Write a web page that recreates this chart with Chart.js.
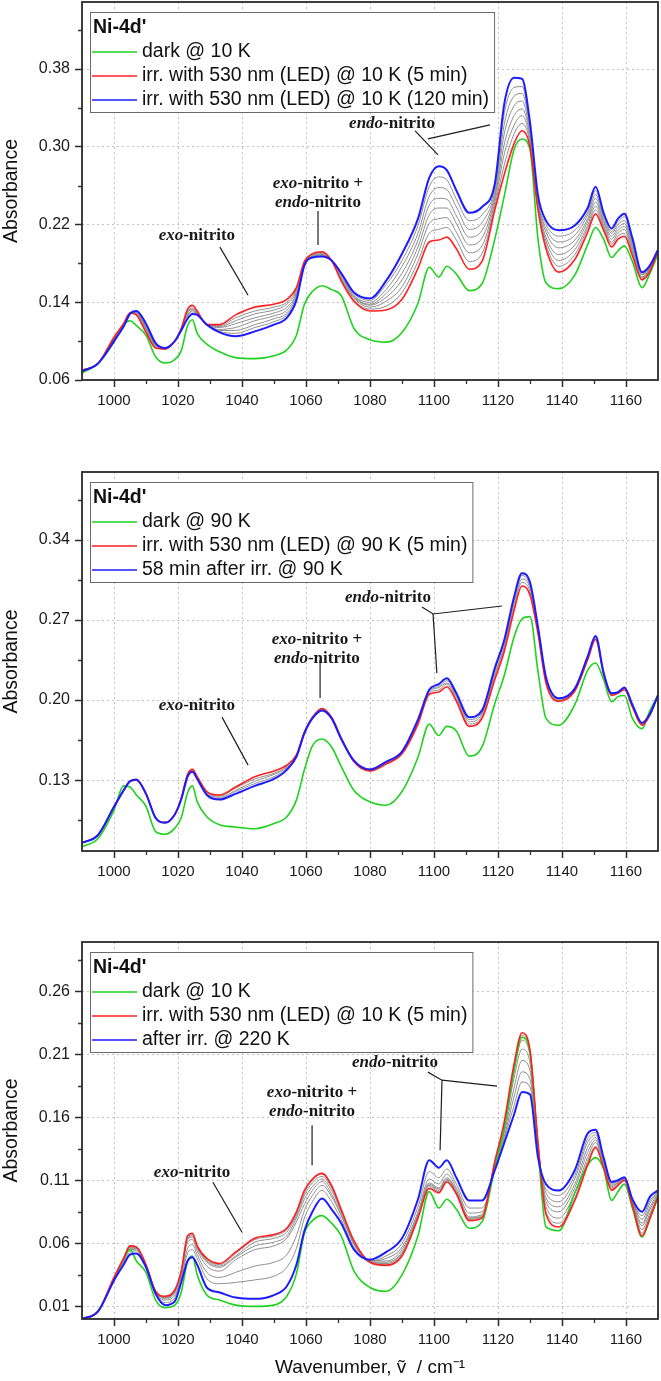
<!DOCTYPE html>
<html>
<head>
<meta charset="utf-8">
<script src="https://cdn.jsdelivr.net/npm/chart.js@4.4.0/dist/chart.umd.min.js"></script>
<style>
body { margin: 0; background: #fff; overflow: hidden; }
#wrap { position: relative; width: 661px; height: 1381px; overflow: hidden; }
canvas { position: absolute; left: 0; }
</style>
</head>
<body>
<div id="wrap">
<canvas id="c1" width="661" height="450" style="top:-30px"></canvas>
<canvas id="c2" width="661" height="451" style="top:440px"></canvas>
<canvas id="c3" width="661" height="471" style="top:910px"></canvas>
</div>
<script>
// shared x grid (cm-1)
const wavenumbers = [990, 995, 1000, 1003, 1005, 1007, 1010, 1013, 1016, 1019, 1021, 1023, 1024.5, 1026, 1029, 1033, 1038, 1044, 1050, 1054, 1057, 1059.5, 1062, 1065, 1068, 1071, 1075, 1080, 1085, 1090, 1095, 1098.5, 1101.5, 1104, 1107, 1111, 1115, 1119, 1122, 1125, 1127.5, 1130, 1132.5, 1135, 1139, 1144, 1148, 1150.5, 1153, 1155.5, 1157.5, 1159.5, 1162, 1165, 1167.5, 1170];
const xTicks = [1000, 1020, 1040, 1060, 1080, 1100, 1120, 1140, 1160];
const xMinor = [1010, 1030, 1050, 1070, 1090, 1110, 1130, 1150];

// panel 1 : 10 K
const p1Dark = [.067,.077,.099,.117,.121,.116,.106,.084,.0775,.081,.090,.116,.122,.108,.097,.089,.083,.082,.085,.091,.106,.138,.151,.157,.153,.147,.113,.1015,.099,.109,.139,.176,.166,.177,.169,.152,.159,.205,.250,.297,.308,.297,.205,.160,.154,.168,.199,.217,.205,.186,.193,.198,.182,.155,.170,.190];
const p1Irr5 = [.070,.077,.104,.118,.129,.127,.109,.093,.092,.100,.113,.133,.137,.131,.117,.117,.127,.135,.138,.143,.155,.182,.190,.192,.183,.162,.141,.131,.132,.143,.175,.202,.204,.207,.195,.174,.182,.235,.272,.303,.3165,.300,.235,.195,.171,.184,.212,.231,.214,.197,.205,.208,.188,.163,.172,.193];
const p1Irr120 = [.069,.077,.100,.115,.128,.131,.118,.098,.093,.100,.111,.123,.128,.127,.117,.109,.105,.110,.117,.124,.142,.178,.186,.187,.183,.170,.150,.144,.162,.190,.226,.268,.280,.276,.255,.232,.238,.262,.345,.371,.370,.325,.250,.224,.214,.219,.237,.259,.232,.216,.226,.231,.206,.171,.178,.194];
const p1Gray = [
  [.070,.077,.103,.118,.129,.128,.110,.094,.092,.100,.113,.132,.136,.130,.117,.116,.124,.131,.135,.140,.153,.181,.189,.191,.183,.163,.142,.133,.136,.150,.182,.211,.215,.217,.204,.182,.190,.239,.282,.313,.324,.304,.237,.199,.177,.189,.216,.235,.217,.200,.208,.211,.191,.164,.173,.193],
  [.070,.077,.103,.117,.129,.128,.112,.094,.092,.100,.112,.130,.134,.130,.117,.115,.121,.128,.132,.138,.151,.181,.189,.191,.183,.164,.144,.135,.141,.156,.190,.221,.226,.227,.212,.191,.198,.243,.293,.322,.332,.307,.238,.203,.183,.194,.219,.239,.219,.202,.211,.215,.193,.165,.174,.193],
  [.070,.077,.102,.117,.129,.129,.113,.095,.092,.100,.112,.129,.133,.129,.117,.114,.118,.124,.129,.135,.149,.180,.188,.190,.183,.165,.145,.137,.145,.163,.197,.230,.237,.237,.221,.199,.206,.247,.303,.332,.339,.311,.240,.207,.189,.199,.223,.243,.222,.205,.214,.218,.196,.166,.175,.193],
  [.069,.077,.102,.116,.128,.129,.114,.096,.093,.100,.112,.127,.132,.129,.117,.112,.114,.121,.126,.132,.148,.180,.188,.189,.183,.167,.146,.138,.149,.170,.204,.240,.247,.246,.229,.207,.214,.250,.314,.342,.347,.314,.242,.212,.196,.204,.226,.247,.224,.208,.217,.221,.198,.168,.175,.193],
  [.069,.077,.101,.116,.128,.130,.115,.096,.093,.100,.112,.126,.131,.128,.117,.111,.111,.117,.123,.129,.146,.179,.187,.189,.183,.168,.147,.140,.153,.177,.211,.249,.258,.256,.238,.215,.222,.254,.324,.352,.355,.318,.244,.216,.202,.209,.230,.251,.227,.211,.220,.224,.201,.169,.176,.193],
  [.069,.077,.101,.115,.128,.130,.117,.097,.093,.100,.111,.124,.129,.128,.117,.110,.108,.114,.120,.127,.144,.179,.187,.188,.183,.169,.149,.142,.158,.183,.219,.259,.269,.266,.246,.224,.230,.258,.335,.361,.362,.321,.245,.220,.208,.214,.233,.255,.229,.213,.223,.228,.203,.170,.177,.193]
];
const p1YTicks = [0.06, 0.14, 0.22, 0.30, 0.38];
const p1YMinor = [0.10, 0.18, 0.26, 0.34, 0.42];

// panel 2 : 90 K
const p2Dark = [.0716,.079,.1038,.125,.124,.117,.107,.085,.0827,.088,.097,.119,.125,.111,.098,.091,.089,.0875,.092,.098,.1125,.139,.160,.166,.159,.142,.121,.111,.108,.120,.150,.179,.169,.177,.173,.151,.159,.197,.222,.255,.271,.273,.225,.184,.178,.196,.226,.2325,.218,.1985,.203,.204,.184,.175,.191,.2044];
const p2Irr5 = [.0751,.082,.1066,.121,.129,.130,.118,.097,.093,.100,.114,.135,.1394,.133,.120,.117,.124,.133,.138,.143,.152,.172,.185,.1927,.185,.167,.146,.138,.144,.153,.179,.205,.207,.2117,.199,.177,.184,.218,.243,.278,.2998,.292,.258,.215,.199,.208,.235,.253,.223,.204,.206,.209,.194,.178,.187,.2044];
const p2After = [.0751,.082,.1066,.121,.129,.1306,.118,.097,.0927,.100,.113,.133,.1373,.131,.117,.113,.118,.125,.131,.139,.1504,.171,.184,.191,.184,.166,.147,.1393,.146,.155,.183,.209,.214,.219,.206,.185,.191,.228,.253,.290,.311,.303,.264,.220,.2015,.210,.238,.256,.224,.206,.207,.211,.196,.180,.188,.2044];
const p2Gray = [
  [.075,.082,.107,.121,.129,.130,.118,.097,.093,.100,.114,.135,.139,.133,.119,.116,.123,.131,.136,.142,.152,.172,.185,.192,.185,.167,.146,.138,.145,.154,.180,.206,.209,.214,.201,.179,.186,.221,.246,.281,.303,.295,.260,.216,.200,.209,.236,.254,.223,.205,.206,.210,.195,.179,.187,.204],
  [.075,.082,.107,.121,.129,.130,.118,.097,.093,.100,.114,.134,.138,.132,.119,.115,.121,.129,.135,.141,.151,.172,.185,.192,.185,.167,.147,.139,.145,.154,.181,.207,.211,.215,.203,.181,.188,.223,.248,.284,.306,.298,.261,.218,.200,.209,.237,.255,.224,.205,.206,.210,.195,.179,.187,.204],
  [.075,.082,.107,.121,.129,.130,.118,.097,.093,.100,.113,.134,.138,.132,.118,.114,.120,.127,.133,.140,.151,.171,.184,.191,.184,.166,.147,.139,.146,.155,.182,.208,.212,.217,.204,.183,.189,.226,.251,.287,.309,.300,.263,.219,.201,.210,.237,.255,.224,.206,.206,.210,.195,.179,.187,.204]
];
const p2YTicks = [0.13, 0.20, 0.27, 0.34];
const p2YMinor = [0.095, 0.165, 0.235, 0.305, 0.375];

// panel 3 : warming to 220 K
const p3Dark = [0,.006,.032,.048,.055,.046,.037,.015,.009,.011,.021,.046,.050,.035,.019,.015,.011,.010,.011,.018,.036,.068,.078,.082,.076,.066,.038,.025,.022,.035,.066,.101,.088,.095,.087,.072,.077,.120,.152,.197,.2235,.211,.135,.073,.070,.100,.122,.128,.119,.094,.101,.107,.088,.065,.080,.097];
const p3Irr5 = [0,.006,.033,.048,.058,.057,.043,.022,.018,.023,.038,.066,.068,.058,.048,.044,.053,.064,.067,.072,.085,.102,.111,.1155,.106,.087,.062,.045,.0425,.050,.080,.1035,.100,.1087,.099,.078,.080,.125,.157,.202,.227,.2133,.140,.083,.073,.094,.122,.136,.120,.102,.106,.110,.090,.066,.080,.097];
const p3After = [0,.006,.0306,.043,.051,.052,.041,.020,.011,.014,.029,.046,.049,.043,.025,.021,.017,.016,.019,.026,.043,.070,.085,.0955,.087,.076,.055,.047,.053,.064,.095,.126,.120,.1259,.112,.094,.094,.118,.140,.162,.180,.178,.128,.107,.102,.118,.147,.150,.128,.1087,.110,.1125,.095,.085,.097,.102];
const p3Gray = [
  [0,.006,.032,.048,.058,.057,.043,.022,.018,.023,.038,.065,.067,.057,.047,.043,.052,.063,.066,.071,.084,.100,.110,.115,.105,.086,.062,.045,.043,.051,.081,.105,.101,.110,.100,.079,.081,.125,.154,.200,.225,.212,.140,.085,.076,.096,.125,.137,.121,.103,.106,.110,.091,.068,.082,.098],
  [0,.006,.032,.047,.057,.057,.043,.022,.017,.022,.037,.064,.066,.057,.046,.042,.050,.061,.064,.069,.082,.098,.108,.113,.104,.086,.061,.045,.044,.052,.082,.106,.102,.110,.100,.080,.081,.124,.153,.197,.221,.209,.138,.089,.080,.100,.128,.140,.122,.104,.107,.111,.091,.071,.084,.098],
  [0,.006,.032,.047,.057,.056,.043,.022,.017,.022,.037,.063,.065,.056,.045,.041,.049,.058,.061,.066,.080,.095,.105,.111,.102,.085,.060,.045,.045,.053,.082,.107,.103,.111,.101,.080,.082,.123,.151,.191,.214,.203,.137,.093,.085,.104,.132,.142,.123,.105,.108,.111,.092,.074,.087,.099],
  [0,.006,.032,.046,.056,.056,.042,.022,.016,.021,.036,.061,.063,.054,.042,.038,.047,.055,.058,.064,.077,.091,.102,.109,.099,.083,.060,.046,.046,.055,.083,.108,.104,.112,.102,.081,.083,.122,.148,.183,.205,.197,.134,.096,.089,.107,.136,.144,.124,.106,.108,.111,.093,.076,.089,.100],
  [0,.006,.032,.045,.055,.055,.042,.021,.015,.019,.034,.056,.059,.051,.037,.033,.037,.042,.045,.051,.066,.086,.098,.106,.097,.082,.059,.046,.048,.057,.085,.111,.107,.115,.104,.084,.085,.120,.145,.176,.196,.190,.132,.100,.093,.111,.140,.146,.126,.107,.109,.112,.094,.079,.092,.101],
  [0,.006,.032,.044,.053,.054,.042,.021,.013,.017,.032,.052,.055,.048,.032,.028,.029,.031,.034,.041,.056,.080,.093,.102,.093,.079,.057,.046,.050,.060,.089,.117,.112,.119,.107,.088,.088,.119,.143,.169,.188,.184,.130,.103,.098,.114,.143,.148,.127,.108,.109,.112,.094,.082,.094,.101]
];
const p3YTicks = [0.01, 0.06, 0.11, 0.16, 0.21, 0.26];
const p3YMinor = [0.035, 0.085, 0.135, 0.185, 0.235, 0.285];

const GREEN = '#1ed21e', RED = '#ff2020', BLUE = '#1c1cff', GRAY = '#8e8e8e';
const SANS = '"Liberation Sans", Arial, sans-serif';
const SERIF = '"Liberation Serif", "Times New Roman", serif';

Chart.defaults.font.family = SANS;

function series(values, color, width) {
  return {
    data: wavenumbers.map((x, i) => ({ x: x, y: values[i] })),
    borderColor: color,
    borderWidth: width,
    pointRadius: 0,
    fill: false,
    cubicInterpolationMode: 'monotone'
  };
}

function richText(ctx, parts, cx, cy) {
  const fonts = parts.map((p, i) => (i === 0 ? 'italic bold 17px ' : 'bold 17px ') + SERIF);
  let total = 0;
  const widths = parts.map((p, i) => { ctx.font = fonts[i]; const w = ctx.measureText(p).width; total += w; return w; });
  let x = cx - total / 2;
  parts.forEach((p, i) => { ctx.font = fonts[i]; ctx.fillText(p, x, cy); x += widths[i]; });
}

const decor = {
  id: 'decor',
  afterDraw(chart, args, o) {
    const ctx = chart.ctx, a = chart.chartArea;
    const xs = chart.scales.x, ys = chart.scales.y;
    ctx.save();
    // minor ticks
    ctx.strokeStyle = '#333';
    ctx.lineWidth = 1.3;
    ctx.beginPath();
    xMinor.forEach(v => { const px = Math.round(xs.getPixelForValue(v)) + 0.5; ctx.moveTo(px, a.bottom); ctx.lineTo(px, a.bottom + 4); });
    o.yMinor.forEach(v => { const py = Math.round(ys.getPixelForValue(v)) + 0.5; ctx.moveTo(a.left, py); ctx.lineTo(a.left - 4, py); });
    ctx.stroke();
    // frame
    ctx.strokeStyle = '#2a2a2a';
    ctx.lineWidth = 1.8;
    ctx.strokeRect(a.left, a.top, a.right - a.left, a.bottom - a.top);

    // legend
    const lg = o.legend;
    const left = a.left + 8, top = a.top + 10;
    ctx.font = '19.5px ' + SANS;
    let w = 0;
    lg.rows.forEach(r => { w = Math.max(w, ctx.measureText(r[0]).width); });
    const bw = 52 + w + 5, bh = 100;
    ctx.fillStyle = '#fff';
    ctx.fillRect(left, top, bw, bh);
    ctx.strokeStyle = '#6a6a6a';
    ctx.lineWidth = 1;
    ctx.strokeRect(left + 0.5, top + 0.5, bw, bh);
    ctx.fillStyle = '#111';
    ctx.textBaseline = 'middle';
    ctx.textAlign = 'left';
    ctx.font = 'bold 19.5px ' + SANS;
    ctx.fillText(lg.title, left + 3, top + 16);
    ctx.font = '19.5px ' + SANS;
    lg.rows.forEach((r, i) => {
      const y = top + 40 + i * 24;
      ctx.strokeStyle = r[1];
      ctx.lineWidth = 1.5;
      ctx.beginPath();
      ctx.moveTo(left + 2, y);
      ctx.lineTo(left + 47, y);
      ctx.stroke();
      ctx.fillStyle = '#111';
      ctx.fillText(r[0], left + 52, y);
    });

    // annotations
    ctx.strokeStyle = '#1e1e1e';
    ctx.lineWidth = 1.2;
    o.leaders.forEach(pts => {
      ctx.beginPath();
      pts.forEach((p, i) => {
        const px = xs.getPixelForValue(p[0]), py = ys.getPixelForValue(p[1]);
        if (i === 0) ctx.moveTo(px, py); else ctx.lineTo(px, py);
      });
      ctx.stroke();
    });
    ctx.fillStyle = '#1a1a1a';
    o.labels.forEach(lb => {
      const cx = xs.getPixelForValue(lb.x), cy = ys.getPixelForValue(lb.y);
      lb.rows.forEach((parts, i) => richText(ctx, parts, cx, cy + i * 19));
    });
    ctx.restore();
  }
};

function makePanel(id, p) {
  const datasets = [series(p.after, BLUE, 2), series(p.irr, RED, 1.6), series(p.dark, GREEN, 1.6)];
  p.grays.forEach(g => datasets.push(series(g, GRAY, 1)));
  return new Chart(document.getElementById(id), {
    type: 'line',
    data: { datasets: datasets },
    options: {
      responsive: false,
      animation: false,
      devicePixelRatio: 1,
      layout: { padding: { top: p.padTop, right: 3, left: 0, bottom: 0 } },
      plugins: {
        legend: { display: false },
        tooltip: { enabled: false },
        decor: { legend: p.legend, labels: p.labels, leaders: p.leaders, yMinor: p.yMinor }
      },
      scales: {
        x: {
          type: 'linear',
          min: 990,
          max: 1170,
          afterBuildTicks: s => { s.ticks = xTicks.map(v => ({ value: v })); },
          afterFit: s => { s.height = p.xHeight; },
          ticks: { font: { size: 15 }, color: '#1a1a1a', padding: 5, maxRotation: 0, callback: v => v },
          grid: { color: '#c2c2c2', lineWidth: 1, tickLength: 7, tickColor: '#2a2a2a', tickWidth: 1.5 },
          border: { display: false, dash: [2, 3] },
          title: p.xTitle ? { display: true, text: 'Wavenumber, ṽ  / cm⁻¹', font: { size: 19 }, color: '#111', padding: { top: 0, bottom: 2 } } : { display: false }
        },
        y: {
          type: 'linear',
          min: p.yMin,
          max: p.yMax,
          afterBuildTicks: s => { s.ticks = p.yTicks.map(v => ({ value: v })); },
          afterFit: s => { s.width = 82; },
          ticks: { font: { size: 16 }, color: '#1a1a1a', padding: 5, callback: v => v.toFixed(2) },
          grid: { color: '#c2c2c2', lineWidth: 1, tickLength: 7, tickColor: '#2a2a2a', tickWidth: 1.5 },
          border: { display: false, dash: [2, 3] },
          title: { display: true, text: 'Absorbance', font: { size: 19.5 }, color: '#111', padding: { top: 0, bottom: 0 } }
        }
      }
    },
    plugins: [decor]
  });
}

makePanel('c1', {
  dark: p1Dark, irr: p1Irr5, after: p1Irr120, grays: p1Gray,
  yMin: 0.06, yMax: 0.449, yTicks: p1YTicks, yMinor: p1YMinor,
  padTop: 32, xHeight: 40,
  legend: { title: "Ni-4d'", rows: [['dark @ 10 K', GREEN], ['irr. with 530 nm (LED) @ 10 K (5 min)', RED], ['irr. with 530 nm (LED) @ 10 K (120 min)', BLUE]] },
  labels: [
    { x: 1025.9, y: 0.209, rows: [['exo', '-nitrito']] },
    { x: 1063.75, y: 0.2618, rows: [['exo', '-nitrito +'], ['endo', '-nitrito']] },
    { x: 1086.9, y: 0.3237, rows: [['endo', '-nitrito']] }
  ],
  leaders: [
    [[1033.1, 0.1967], [1041.9, 0.1472]],
    [[1063.75, 0.2339], [1063.75, 0.1988]],
    [[1094.1, 0.3164], [1101.25, 0.2916]],
    [[1098.1, 0.3081], [1117.5, 0.3226]]
  ]
});

makePanel('c2', {
  dark: p2Dark, irr: p2Irr5, after: p2After, grays: p2Gray,
  yMin: 0.068, yMax: 0.3995, yTicks: p2YTicks, yMinor: p2YMinor,
  padTop: 32, xHeight: 40,
  legend: { title: "Ni-4d'", rows: [['dark @ 90 K', GREEN], ['irr. with 530 nm (LED) @ 90 K (5 min)', RED], ['58 min after irr. @ 90 K', BLUE]] },
  labels: [
    { x: 1025.9, y: 0.1956, rows: [['exo', '-nitrito']] },
    { x: 1063.4, y: 0.2525, rows: [['exo', '-nitrito +'], ['endo', '-nitrito']] },
    { x: 1085.6, y: 0.290, rows: [['endo', '-nitrito']] }
  ],
  leaders: [
    [[1033.75, 0.1851], [1041.9, 0.1431]],
    [[1064.4, 0.235], [1064.4, 0.2018]],
    [[1096.25, 0.2814], [1099.7, 0.2753], [1121.25, 0.2823]],
    [[1099.7, 0.2753], [1100.9, 0.2236]]
  ]
});

makePanel('c3', {
  dark: p3Dark, irr: p3Irr5, after: p3After, grays: p3Gray,
  yMin: 0, yMax: 0.299, yTicks: p3YTicks, yMinor: p3YMinor,
  padTop: 32, xHeight: 62, xTitle: true,
  legend: { title: "Ni-4d'", rows: [['dark @ 10 K', GREEN], ['irr. with 530 nm (LED) @ 10 K (5 min)', RED], ['after irr. @ 220 K', BLUE]] },
  labels: [
    { x: 1024.4, y: 0.1164, rows: [['exo', '-nitrito']] },
    { x: 1061.9, y: 0.1799, rows: [['exo', '-nitrito +'], ['endo', '-nitrito']] },
    { x: 1087.8, y: 0.2037, rows: [['endo', '-nitrito']] }
  ],
  leaders: [
    [[1030.9, 0.1085], [1040, 0.0688]],
    [[1061.9, 0.1537], [1061.9, 0.122]],
    [[1098.1, 0.1958], [1102.5, 0.1894], [1119.7, 0.1847]],
    [[1102.5, 0.1894], [1101.9, 0.1339]]
  ]
});
</script>
</body>
</html>
